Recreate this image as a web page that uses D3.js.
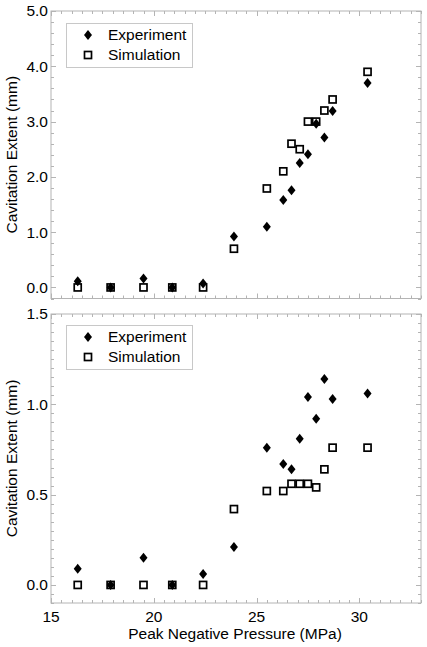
<!DOCTYPE html>
<html>
<head>
<meta charset="utf-8">
<script src="https://cdn.jsdelivr.net/npm/d3@7"></script>
<style>
html,body{margin:0;padding:0;background:#fff;}
svg{display:block;font-family:Arial,"Liberation Sans",sans-serif;}
</style>
</head>
<body>
<svg id="chart" width="427" height="647"></svg>
<script>
// ---- Data ----
const pressure = [16.3, 17.9, 19.5, 20.9, 22.4, 23.9, 25.5, 26.3, 26.7, 27.1, 27.5, 27.9, 28.3, 28.7, 30.4];
const topExperiment = [0.11, 0.0, 0.16, 0.0, 0.07, 0.92, 1.10, 1.58, 1.76, 2.25, 2.41, 2.96, 2.71, 3.19, 3.70];
const topSimulation = [0.0, 0.0, 0.0, 0.0, 0.0, 0.70, 1.79, 2.10, 2.60, 2.50, 3.00, 3.00, 3.20, 3.40, 3.90];
const botExperiment = [0.09, 0.0, 0.15, 0.0, 0.06, 0.21, 0.76, 0.67, 0.64, 0.81, 1.04, 0.92, 1.14, 1.03, 1.06];
const botSimulation = [0.0, 0.0, 0.0, 0.0, 0.0, 0.42, 0.52, 0.52, 0.56, 0.56, 0.56, 0.54, 0.64, 0.76, 0.76];
const xTicks = [15, 20, 25, 30];
const topYTicks = [0, 1, 2, 3, 4, 5];
const botYTicks = [0, 0.5, 1.0, 1.5];
const seriesNames = ["Experiment", "Simulation"];
const xTitle = "Peak Negative Pressure (MPa)";
const yTitle = "Cavitation Extent (mm)";

const svg = d3.select("#chart");
const left = 51, right = 421;
const x = d3.scaleLinear().domain([15, 33]).range([left, right]);
const frameColor = "#b4b4b4";
const fontSize = 15.5;
const diamondPath = "M0,-5L4,0L0,5L-4,0Z";

function panel(cfg) {
  const y = d3.scaleLinear().domain(cfg.yDomain).range([cfg.bottom, cfg.top]);
  const g = svg.append("g");
  g.append("rect").attr("x", left).attr("y", cfg.top)
    .attr("width", right - left).attr("height", cfg.bottom - cfg.top)
    .attr("fill", "none").attr("stroke", frameColor).attr("stroke-width", 1);
  const xMinor = d3.range(15, 33.001, 0.5);
  xMinor.forEach(v => {
    const major = Math.abs(v % 5) < 1e-6;
    const len = major ? 5 : 3;
    const px = Math.round(x(v)) + 0.5;
    g.append("line").attr("x1", px).attr("x2", px).attr("y1", cfg.bottom).attr("y2", cfg.bottom - len)
      .attr("stroke", frameColor).attr("stroke-width", 1);
    g.append("line").attr("x1", px).attr("x2", px).attr("y1", cfg.top).attr("y2", cfg.top + len)
      .attr("stroke", frameColor).attr("stroke-width", 1);
  });
  const yMinor = d3.range(cfg.yDomain[0], cfg.yDomain[1] + 1e-6, cfg.minorStep);
  yMinor.forEach(v => {
    const major = cfg.yTicks.some(t => Math.abs(t - v) < 1e-6);
    const len = major ? 5 : 3;
    const py = Math.round(y(v)) + 0.5;
    g.append("line").attr("x1", left).attr("x2", left + len).attr("y1", py).attr("y2", py)
      .attr("stroke", frameColor).attr("stroke-width", 1);
    g.append("line").attr("x1", right).attr("x2", right - len).attr("y1", py).attr("y2", py)
      .attr("stroke", frameColor).attr("stroke-width", 1);
  });
  g.selectAll(".ylab").data(cfg.yTicks).enter().append("text")
    .attr("x", left - 3).attr("y", d => y(d)).attr("dy", "0.35em")
    .attr("text-anchor", "end").attr("font-size", fontSize).attr("fill", "#000")
    .text(d => d3.format(".1f")(d));
  g.append("text")
    .attr("transform", `translate(17,${(cfg.top + cfg.bottom) / 2}) rotate(-90)`)
    .attr("text-anchor", "middle").attr("font-size", fontSize).attr("fill", "#000")
    .text(yTitle);
  if (cfg.xLabels) {
    g.selectAll(".xlab").data(xTicks).enter().append("text")
      .attr("x", d => x(d)).attr("y", cfg.bottom + 19)
      .attr("text-anchor", "middle").attr("font-size", fontSize).attr("fill", "#000")
      .text(d => d);
    g.append("text").attr("x", (left + right) / 2 - 1).attr("y", cfg.bottom + 36)
      .attr("text-anchor", "middle").attr("font-size", fontSize).attr("fill", "#000")
      .text(xTitle);
  }
  g.selectAll(".sim").data(pressure.map((p, i) => [p, cfg.sim[i]])).enter().append("rect")
    .attr("x", d => x(d[0]) - 3.5).attr("y", d => y(d[1]) - 3.5)
    .attr("width", 7).attr("height", 7)
    .attr("fill", "#fff").attr("stroke", "#000").attr("stroke-width", 1.7);
  g.selectAll(".exp").data(pressure.map((p, i) => [p, cfg.exp[i]])).enter().append("path")
    .attr("d", diamondPath)
    .attr("transform", d => `translate(${x(d[0])},${y(d[1])})`)
    .attr("fill", "#000");
  const lg = g.append("g");
  lg.append("rect").attr("x", cfg.legX + 0.5).attr("y", cfg.legY + 0.5).attr("width", 126).attr("height", 44)
    .attr("fill", "#fff").attr("stroke", "#c8c8c8").attr("stroke-width", 1);
  lg.append("path").attr("d", diamondPath)
    .attr("transform", `translate(${cfg.legX + 22},${cfg.legY + 12})`)
    .attr("fill", "#000");
  lg.append("rect").attr("x", cfg.legX + 22 - 3.5).attr("y", cfg.legY + 32 - 3.5)
    .attr("width", 7).attr("height", 7).attr("fill", "#fff").attr("stroke", "#000").attr("stroke-width", 1.7);
  seriesNames.forEach((s, i) => {
    lg.append("text").attr("x", cfg.legX + 42).attr("y", cfg.legY + 12 + i * 20).attr("dy", "0.35em")
      .attr("font-size", fontSize).attr("fill", "#000").text(s);
  });
}

panel({top: 11, bottom: 298.5, yDomain: [-0.2, 5.0], yTicks: topYTicks, minorStep: 0.2,
       exp: topExperiment, sim: topSimulation, xLabels: false, legX: 66, legY: 23});
panel({top: 314, bottom: 603, yDomain: [-0.1, 1.5], yTicks: botYTicks, minorStep: 0.05,
       exp: botExperiment, sim: botSimulation, xLabels: true, legX: 66, legY: 325});
</script>
</body>
</html>
